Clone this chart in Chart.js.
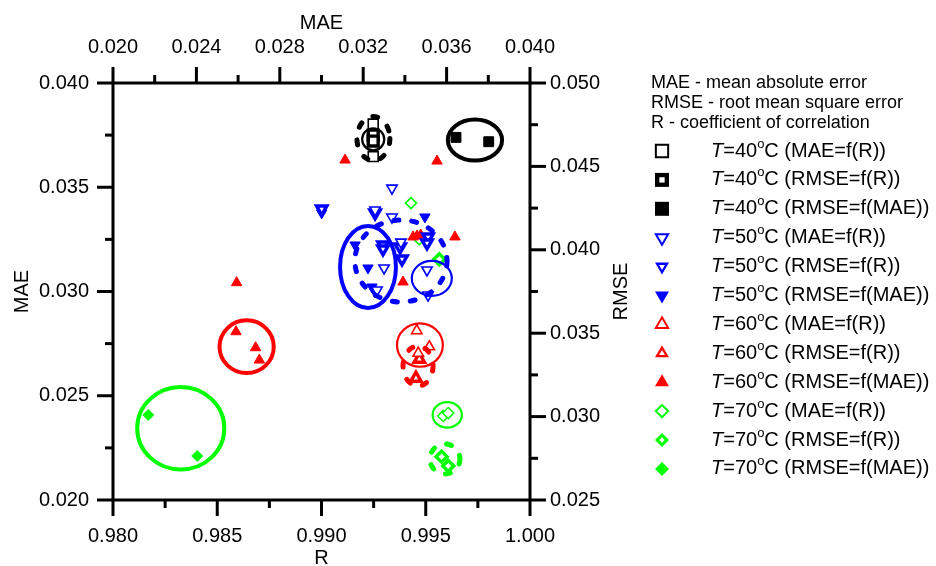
<!DOCTYPE html>
<html>
<head>
<meta charset="utf-8">
<script src="https://cdn.jsdelivr.net/npm/chart.js@4.4.1/dist/chart.umd.min.js"></script>
<style>
  html, body { margin: 0; padding: 0; background: #fff; }
</style>
</head>
<body>
<canvas id="chart" width="936" height="566"></canvas>
<script>
// values
// T=40 C
const maeR40_R = [0.99248, 0.99248];
const maeR40_MAE = [0.03803, 0.03647];
const rmseR40_R = [0.99248, 0.99248];
const rmseR40_RMSE = [0.04688, 0.04652];
const rmseMae40_MAE = [0.03645, 0.03802];
const rmseMae40_RMSE = [0.04674, 0.04648];

// T=50 C
const maeR50_R = [0.99338, 0.99257, 0.99338, 0.99381, 0.99506, 0.99511, 0.99300, 0.99266];
const maeR50_MAE = [0.03496, 0.03391, 0.03357, 0.03237, 0.03103, 0.02983, 0.03113, 0.03007];
const rmseR50_R = [0.99001, 0.99257, 0.99295, 0.99295, 0.99377, 0.99386, 0.99511, 0.99506];
const rmseR50_RMSE = [0.04245, 0.04221, 0.04029, 0.04005, 0.04017, 0.03945, 0.04077, 0.04041];
const rmseMae50_MAE = [0.03001, 0.03496, 0.03161, 0.03223, 0.03242, 0.03257];
const rmseMae50_RMSE = [0.04221, 0.04197, 0.04029, 0.03891, 0.03777, 0.03747];

// T=60 C
const maeR60_R = [0.99457, 0.99517, 0.99464];
const maeR60_MAE = [0.02812, 0.02735, 0.02704];
const rmseR60_R = [0.99453, 0.99469];
const rmseR60_RMSE = [0.03230, 0.03344];
const rmseMae60_MAE = [0.02590, 0.02684, 0.02702, 0.02593, 0.03113, 0.03554, 0.03439, 0.03458, 0.03476, 0.03640, 0.03391];
const rmseMae60_RMSE = [0.03509, 0.03413, 0.03339, 0.03803, 0.04538, 0.04532, 0.04077, 0.04083, 0.04089, 0.04077, 0.03807];

// T=70 C
const maeR70_R = [0.99584, 0.99608, 0.99429, 0.99469];
const maeR70_MAE = [0.02403, 0.02417, 0.03424, 0.03250];
const rmseR70_R = [0.99576, 0.99608, 0.99565];
const rmseR70_RMSE = [0.02760, 0.02704, 0.03943];
const rmseMae70_MAE = [0.02169, 0.02404];
const rmseMae70_RMSE = [0.03010, 0.02764];

// rings round the clusters: [centre x, centre y, half width, half height] in axis units
const ringsMaeR = [
  [0.99248, 0.03730, 0.00053, 0.00053],
  [0.99529, 0.03063, 0.00096, 0.00084],
  [0.99472, 0.02743, 0.00110, 0.00104],
  [0.99603, 0.02408, 0.00070, 0.00061],
];
const ringsRmseR = [
  [0.99249, 0.04667, 0.00079, 0.00132],
  [0.99381, 0.03933, 0.00221, 0.00246],
  [0.99463, 0.03303, 0.00072, 0.00120],
  [0.99592, 0.02746, 0.00072, 0.00090],
];
const ringsRmseMae = [
  [0.03736, 0.04658, 0.00130, 0.00123],
  [0.03223, 0.03897, 0.00134, 0.00246],
  [0.02641, 0.03419, 0.00130, 0.00158],
  [0.02325, 0.02930, 0.00209, 0.00247],
];

const legendNotes = ["MAE - mean absolute error", "RMSE - root mean square error", "R - coefficient of correlation"];
const kindText = { maeR: "MAE=f(R)", rmseR: "RMSE=f(R)", rmseMae: "RMSE=f(MAE)" };

const FONT = "'Liberation Sans', Arial, sans-serif";

const groups = [
  { t: "40", color: "#000000", shape: "rect", rot: 0, rad: 7,
    maeR: [maeR40_R, maeR40_MAE], rmseR: [rmseR40_R, rmseR40_RMSE], rmseMae: [rmseMae40_MAE, rmseMae40_RMSE] },
  { t: "50", color: "#0000ff", shape: "triangle", rot: 180, rad: 6,
    maeR: [maeR50_R, maeR50_MAE], rmseR: [rmseR50_R, rmseR50_RMSE], rmseMae: [rmseMae50_MAE, rmseMae50_RMSE] },
  { t: "60", color: "#ff0000", shape: "triangle", rot: 0, rad: 6,
    maeR: [maeR60_R, maeR60_MAE], rmseR: [rmseR60_R, rmseR60_RMSE], rmseMae: [rmseMae60_MAE, rmseMae60_RMSE] },
  { t: "70", color: "#00ff00", shape: "rectRot", rot: 0, rad: 5.5,
    maeR: [maeR70_R, maeR70_MAE], rmseR: [rmseR70_R, rmseR70_RMSE], rmseMae: [rmseMae70_MAE, rmseMae70_RMSE] },
];

function makeSet(g, kind, xAxisID, yAxisID) {
  const [xs, ys] = g[kind];
  return {
    label: "T=" + g.t + "°C (" + kindText[kind] + ")",
    data: xs.map((x, i) => ({ x: x, y: ys[i] })),
    xAxisID: xAxisID,
    yAxisID: yAxisID,
    showLine: false,
    pointStyle: g.shape,
    pointRotation: g.rot,
    pointRadius: g.rad,
    pointBorderColor: g.color,
    pointBackgroundColor: kind === "rmseMae" ? g.color : "#ffffff",
    pointBorderWidth: kind === "maeR" ? 1.6 : kind === "rmseR" ? 3.4 : 1,
  };
}

const datasets = [];
groups.forEach((g) => {
  datasets.push(makeSet(g, "maeR", "x", "y"));
  datasets.push(makeSet(g, "rmseR", "x", "y2"));
  datasets.push(makeSet(g, "rmseMae", "x2", "y2"));
});

function isMult(v, step) {
  const k = v / step;
  return Math.abs(k - Math.round(k)) < 1e-6;
}

function axis(position, min, max, step, major, pad, size) {
  return {
    type: "linear",
    position: position,
    min: min,
    max: max,
    grid: { display: false, drawTicks: false },
    border: { display: false },
    ticks: {
      stepSize: step,
      autoSkip: false,
      maxRotation: 0,
      padding: pad,
      color: "#000",
      font: { family: FONT, size: 20 },
      callback: (v) => (isMult(v, major) ? v.toFixed(3) : ""),
    },
    afterFit: (s) => {
      if (position === "left" || position === "right") s.width = size;
      else s.height = size;
    },
  };
}

// frame, ticks and axis titles
const frame = {
  id: "frame",
  afterDraw(chart) {
    const { ctx, chartArea: a, scales } = chart;
    ctx.save();
    ctx.strokeStyle = "#000";
    ctx.lineWidth = 3;
    ctx.strokeRect(a.left, a.top, a.right - a.left, a.bottom - a.top);

    const tickSet = [
      { s: scales.x, major: 0.005, side: "bottom" },
      { s: scales.x2, major: 0.004, side: "top" },
      { s: scales.y, major: 0.005, side: "left" },
      { s: scales.y2, major: 0.005, side: "right" },
    ];
    tickSet.forEach(({ s, major, side }) => {
      s.ticks.forEach((t) => {
        const len = isMult(t.value, major) ? 16 : 8;
        const p = s.getPixelForValue(t.value);
        ctx.beginPath();
        if (side === "bottom") { ctx.moveTo(p, a.bottom); ctx.lineTo(p, a.bottom + len); }
        if (side === "top") { ctx.moveTo(p, a.top); ctx.lineTo(p, a.top - len); }
        if (side === "left") { ctx.moveTo(a.left, p); ctx.lineTo(a.left - len, p); }
        if (side === "right") { ctx.moveTo(a.right, p); ctx.lineTo(a.right + len, p); }
        ctx.stroke();
      });
    });

    ctx.fillStyle = "#000";
    ctx.font = "20px " + FONT;
    ctx.textAlign = "center";
    ctx.textBaseline = "middle";
    const midX = (a.left + a.right) / 2;
    const midY = (a.top + a.bottom) / 2;
    ctx.fillText("MAE", midX, 23);
    ctx.fillText("R", midX, 558);
    ctx.save();
    ctx.translate(22, midY);
    ctx.rotate(-Math.PI / 2);
    ctx.fillText("MAE", 0, 0);
    ctx.restore();
    ctx.save();
    ctx.translate(621, midY);
    ctx.rotate(-Math.PI / 2);
    ctx.fillText("RMSE", 0, 0);
    ctx.restore();
    ctx.restore();
  },
};

// rings round the clusters
const rings = {
  id: "rings",
  afterDatasetsDraw(chart) {
    const { ctx, scales } = chart;
    const kinds = [
      { list: ringsMaeR, xs: scales.x, ys: scales.y, width: 2.2, dash: [] },
      { list: ringsRmseR, xs: scales.x, ys: scales.y2, width: 5, dash: [5, 13] },
      { list: ringsRmseMae, xs: scales.x2, ys: scales.y2, width: 4, dash: [] },
    ];
    ctx.save();
    kinds.forEach((k) => {
      k.list.forEach((r, i) => {
        const cx = k.xs.getPixelForValue(r[0]);
        const cy = k.ys.getPixelForValue(r[1]);
        const rx = Math.abs(k.xs.getPixelForValue(r[0] + r[2]) - cx);
        const ry = Math.abs(k.ys.getPixelForValue(r[1] + r[3]) - cy);
        ctx.beginPath();
        ctx.ellipse(cx, cy, rx, ry, 0, 0, Math.PI * 2);
        ctx.strokeStyle = groups[i].color;
        ctx.lineWidth = k.width;
        ctx.lineCap = "round";
        ctx.setLineDash(k.dash);
        ctx.stroke();
      });
    });
    ctx.restore();
  },
};

function shapePoints(shape, rot) {
  if (shape === "rect") return [[-7, -7], [7, -7], [7, 7], [-7, 7]];
  if (shape === "rectRot") return [[0, -7], [7, 0], [0, 7], [-7, 0]];
  const s = rot ? -1 : 1;
  return [[0, -8 * s], [7, 4 * s], [-7, 4 * s]];
}

function poly(ctx, pts, x, y, k) {
  ctx.beginPath();
  pts.forEach(([px, py], i) => {
    if (i === 0) ctx.moveTo(x + px * k, y + py * k);
    else ctx.lineTo(x + px * k, y + py * k);
  });
  ctx.closePath();
}

// legend on the right
const sideLegend = {
  id: "sideLegend",
  afterDraw(chart) {
    const { ctx } = chart;
    ctx.save();
    ctx.fillStyle = "#000";
    ctx.textAlign = "left";
    ctx.textBaseline = "middle";
    ctx.font = "18px " + FONT;
    legendNotes.forEach((t, i) => ctx.fillText(t, 651, 83 + i * 20));

    let row = 0;
    groups.forEach((g) => {
      ["maeR", "rmseR", "rmseMae"].forEach((kind) => {
        const y = 151 + row * 28.9;
        const x = 662;
        const pts = shapePoints(g.shape, g.rot);
        if (kind === "maeR") {
          poly(ctx, pts, x, y, 0.88);
          ctx.fillStyle = "#fff";
          ctx.fill();
          ctx.strokeStyle = g.color;
          ctx.lineWidth = 2;
          ctx.stroke();
        } else {
          poly(ctx, pts, x, y, 1);
          ctx.fillStyle = g.color;
          ctx.fill();
          if (kind === "rmseR") {
            poly(ctx, pts, x, y, g.shape === "triangle" ? 0.42 : 0.38);
            ctx.fillStyle = "#fff";
            ctx.fill();
          }
        }

        ctx.fillStyle = "#000";
        let tx = 711;
        ctx.font = "italic 20px " + FONT;
        ctx.fillText("T", tx, y);
        tx += ctx.measureText("T").width;
        ctx.font = "20px " + FONT;
        ctx.fillText("=" + g.t, tx, y);
        tx += ctx.measureText("=" + g.t).width;
        ctx.font = "13px " + FONT;
        ctx.fillText("o", tx, y - 7);
        tx += ctx.measureText("o").width;
        ctx.font = "20px " + FONT;
        ctx.fillText("C (" + kindText[kind] + ")", tx, y);
        row++;
      });
    });
    ctx.restore();
  },
};

new Chart(document.getElementById("chart").getContext("2d"), {
  type: "scatter",
  data: { datasets: datasets },
  options: {
    responsive: false,
    animation: false,
    events: [],
    layout: { padding: 0 },
    plugins: { legend: { display: false }, tooltip: { enabled: false } },
    scales: {
      x: axis("bottom", 0.98, 1.0, 0.0025, 0.005, 24, 66),
      x2: axis("top", 0.02, 0.04, 0.002, 0.004, 24, 83),
      y: axis("left", 0.02, 0.04, 0.0025, 0.005, 24, 113),
      y2: axis("right", 0.025, 0.05, 0.0025, 0.005, 20, 406),
    },
  },
  plugins: [rings, frame, sideLegend],
});
</script>
</body>
</html>
